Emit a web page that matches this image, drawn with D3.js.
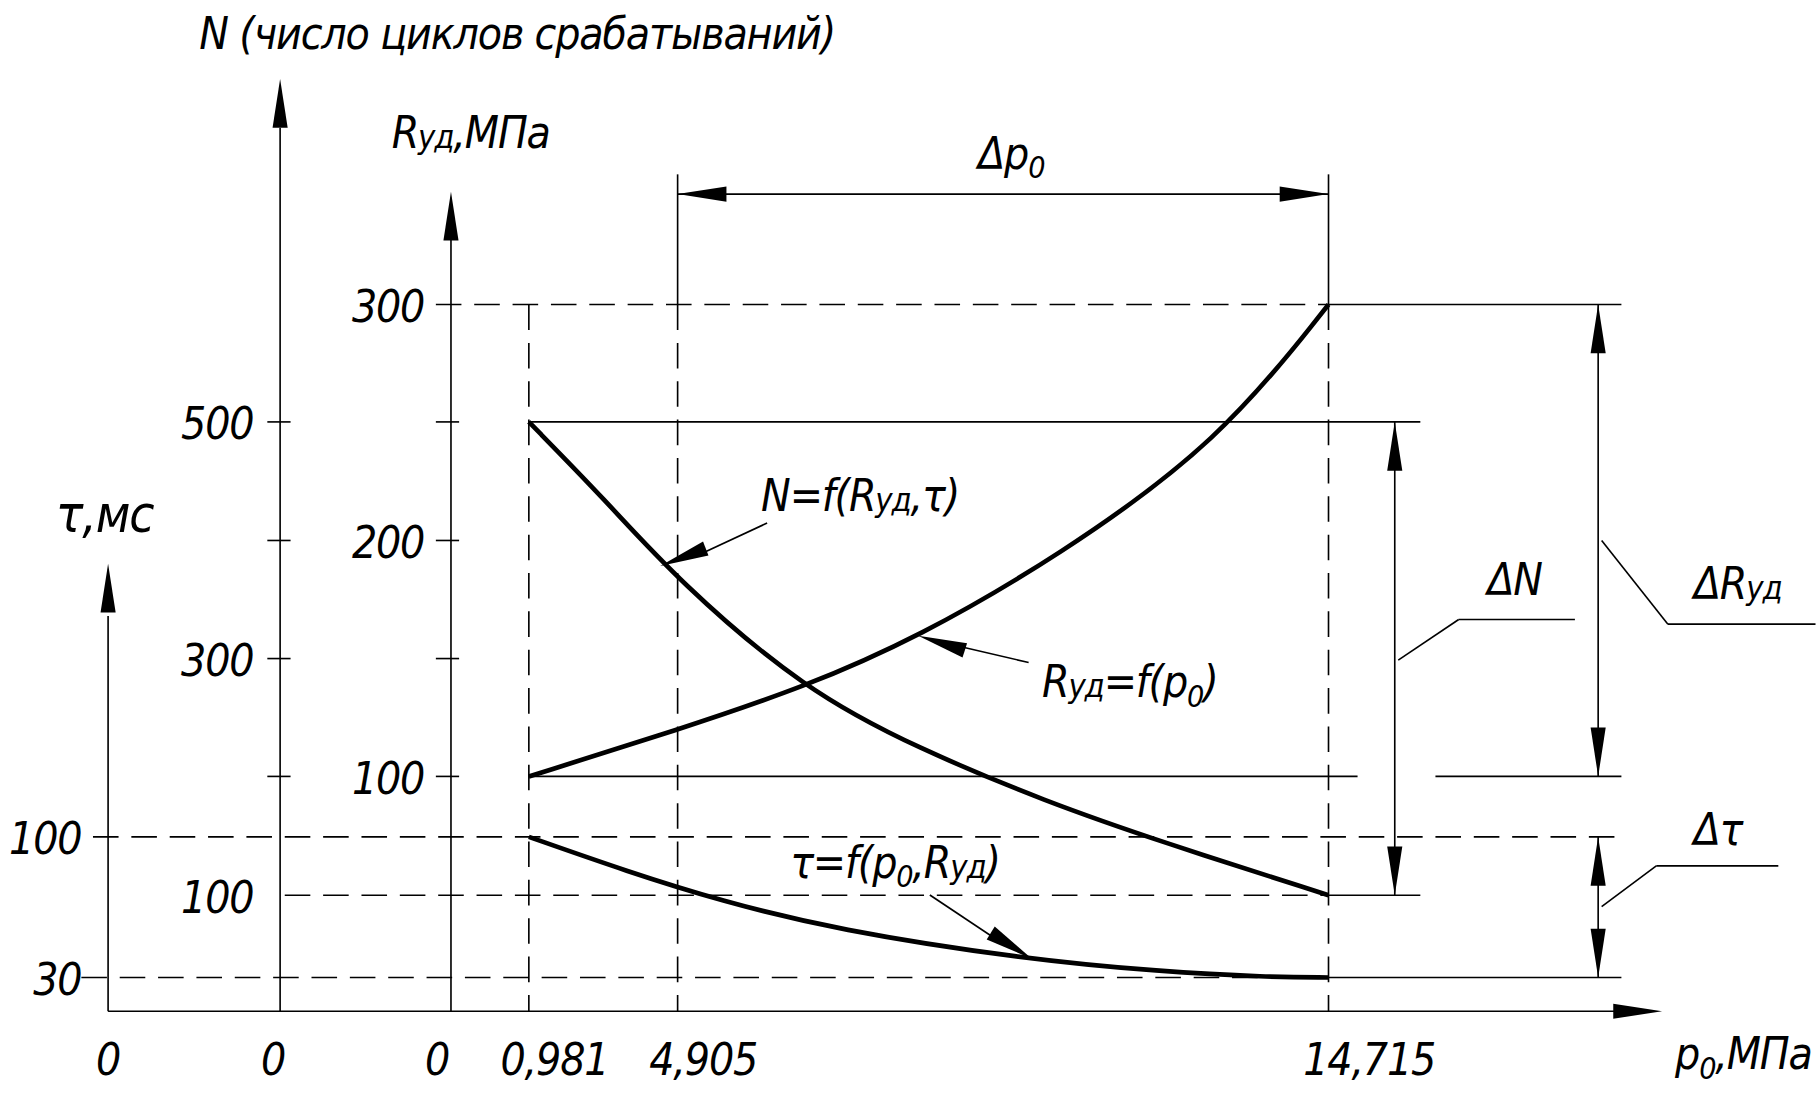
<!DOCTYPE html>
<html>
<head>
<meta charset="utf-8">
<script src="https://cdn.jsdelivr.net/npm/d3@7"></script>
<style>
  body { margin: 0; background: #fff; }
  text { font-family: "DejaVu Sans Condensed", "Liberation Sans Narrow", sans-serif; font-style: italic; font-weight: 300; fill: #000; letter-spacing: -1px; }
</style>
</head>
<body>
<script>
// ---- data ----
var p0Ticks = [0.981, 4.905, 14.715];
var p0Labels = ["0,981", "4,905", "14,715"];
var rudTicks = [100, 200, 300];
var nTicks = [100, 300, 500];
var tauTicks = [30, 100];

// Ryd = f(p0)
var rudP0 = [0.981, 4.905, 6.83, 8.53, 10.63, 13.08, 14.715];
var rudVal = [100, 119.7, 138, 159, 193, 242, 300];
// N = f(Ryd, tau)
var nP0 = [0.981, 2.97, 4.905, 6.83, 8.53, 10.46, 12.2, 14.715];
var nVal = [500, 435, 366, 273, 224, 179, 145, 100];
// tau = f(p0, Ryd)
var tauP0 = [0.981, 3.59, 5.55, 7.3, 10.1, 12.2, 13.79, 14.715];
var tauVal = [100, 82.7, 68.2, 53.7, 39.3, 32.9, 30.2, 30];

// drawing is laid out on a 1565x942 sheet and scaled up to the window
var k = 1819 / 1565;
var svg = d3.select("body").append("svg").attr("width", 1819).attr("height", 1095);
var g = svg.append("g").attr("transform", "scale(" + k + ")");

var x = d3.scaleLinear().domain([0, 0.981, 4.905, 14.715]).range([388, 455, 583, 1143]);
var yR = d3.scaleLinear().domain([0, 300]).range([871, 262]);
var yN = d3.scaleLinear().domain([0, 500]).range([872, 363]);
var yT = d3.scaleLinear().domain([0, 30, 100]).range([870, 841, 720]);

var axisY = 870, xTau = 93, xN = 241, xR = 388;

function line(x1, y1, x2, y2, dash, w) {
  g.append("line").attr("x1", x1).attr("y1", y1).attr("x2", x2).attr("y2", y2)
    .attr("stroke", "#000").attr("stroke-width", w || 1.4)
    .attr("stroke-dasharray", dash ? "22,11" : null);
}
function arrow(xt, yt, dx, dy) { // tip at (xt,yt), pointing along (dx,dy)
  var L = 42, W = 6.5, n = Math.hypot(dx, dy); dx /= n; dy /= n;
  var bx = xt - dx * L, by = yt - dy * L;
  g.append("path").attr("d", "M" + xt + "," + yt + "L" + (bx - dy * W) + "," + (by + dx * W) +
    "L" + (bx + dy * W) + "," + (by - dx * W) + "Z").attr("fill", "#000");
}
function label(t, xx, yy, size, anchor) {
  var el = g.append("text").attr("x", xx).attr("y", yy).attr("font-size", size || 38)
    .attr("text-anchor", anchor || "middle");
  el.html(t);
  return el;
}

// axes
line(xTau, axisY, 1420, axisY); arrow(1430, axisY, 1, 0);
line(xTau, axisY, xTau, 530); arrow(xTau, 485, 0, -1);
line(xN, axisY, xN, 110); arrow(xN, 68, 0, -1);
line(xR, axisY, xR, 205); arrow(xR, 165, 0, -1);

// p0 verticals
line(x(0.981), yR(300), x(0.981), axisY, true);
line(x(4.905), 150, x(4.905), yR(300));
line(x(4.905), yR(300), x(4.905), axisY, true);
line(x(14.715), 150, x(14.715), yR(300));
line(x(14.715), yR(300), x(14.715), axisY, true);

// horizontal reference lines
line(375, yR(300), x(14.715), yR(300), true); line(x(14.715), yR(300), 1395, yR(300));
line(230, yN(500), 250, yN(500)); line(375, yN(500), 395, yN(500));
line(x(0.981), yN(500), 1222, yN(500));
line(230, yR(200), 250, yR(200)); line(375, yR(200), 395, yR(200));
line(230, yN(300), 250, yN(300)); line(375, yN(300), 395, yN(300));
line(230, yR(100), 250, yR(100)); line(375, yR(100), 395, yR(100));
line(x(0.981), yR(100), 1168, yR(100)); line(1235, yR(100), 1395, yR(100));
line(80, yT(100), 1395, yT(100), true);
line(245, yN(100), x(14.715), yN(100), true); line(x(14.715), yN(100), 1222, yN(100));
line(70, yT(30), x(14.715), yT(30), true); line(x(14.715), yT(30), 1395, yT(30));

// tick labels
rudTicks.forEach(function (v) { label(v, 365, yR(v) + 15, 38, "end"); });
nTicks.forEach(function (v) { label(v, 218, yN(v) + 15, 38, "end"); });
tauTicks.forEach(function (v) { label(v, 70, yT(v) + 15, 38, "end"); });
[xTau, xN - 6, xR - 12].forEach(function (xx) { label("0", xx, 925, 38); });
p0Ticks.forEach(function (v, i) { label(p0Labels[i], x(v) + 22 + (i == 2 ? 13 : 0), 925, 38); });

// curves
var curve = d3.line().curve(d3.curveBasis);
function drawCurve(xs, ys, sc) {
  g.append("path").attr("d", curve(xs.map(function (p, i) { return [x(p), sc(ys[i])]; })))
    .attr("fill", "none").attr("stroke", "#000").attr("stroke-width", 4);
}
drawCurve(rudP0, rudVal, yR);
drawCurve(nP0, nVal, yN);
drawCurve(tauP0, tauVal, yT);

// titles
label("N (число циклов срабатываний)", 445, 42, 38);
label("R<tspan font-size='28'>уд</tspan>,МПа", 405, 127, 38);
label("τ,мс", 90, 458, 44);
label("p<tspan font-size='26' dy='8'>0</tspan><tspan dy='-8'>,МПа</tspan>", 1500, 920, 38);

// Δp0 dimension
line(x(4.905), 167, x(14.715), 167);
arrow(x(4.905), 167, -1, 0); arrow(x(14.715), 167, 1, 0);
label("Δp<tspan font-size='26' dy='8'>0</tspan>", 870, 145, 38);

// ΔN
line(1200, yN(500), 1200, yN(100));
arrow(1200, yN(500), 0, -1); arrow(1200, yN(100), 0, 1);
line(1203, 568, 1255, 533); line(1255, 533, 1355, 533);
label("ΔN", 1303, 512, 38);

// ΔRуд
line(1375, yR(300), 1375, yR(100));
arrow(1375, yR(300), 0, -1); arrow(1375, yR(100), 0, 1);
line(1378, 465, 1435, 537); line(1435, 537, 1562, 537);
label("ΔR<tspan font-size='28'>уд</tspan>", 1495, 515, 38);

// Δτ
line(1375, yT(100), 1375, yT(30));
arrow(1375, yT(100), 0, -1); arrow(1375, yT(30), 0, 1);
line(1378, 780, 1425, 745); line(1425, 745, 1530, 745);
label("Δτ", 1478, 727, 38);

// curve captions with leaders
label("N=f(R<tspan font-size='28'>уд</tspan>,τ)", 740, 440, 38);
line(660, 450, 600, 478); arrow(568, 487, -2.6, 1);
label("R<tspan font-size='28'>уд</tspan>=f(p<tspan font-size='26' dy='8'>0</tspan><tspan dy='-8'>)</tspan>", 972, 600, 38);
line(885, 570, 825, 556); arrow(790, 547, -3.2, -1);
label("τ=f(p<tspan font-size='26' dy='8'>0</tspan><tspan dy='-8'>,R</tspan><tspan font-size='28'>уд</tspan>)", 770, 755, 38);
line(800, 770, 860, 810); arrow(888, 825, 1.6, 1);
</script>
</body>
</html>
